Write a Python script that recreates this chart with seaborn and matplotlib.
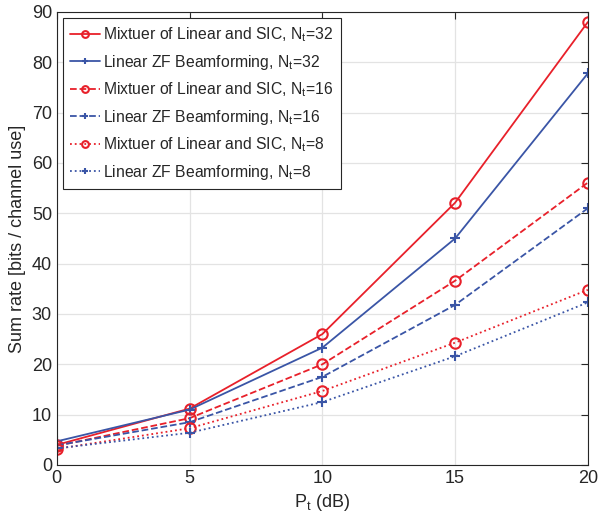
import numpy as np
import pandas as pd
import matplotlib
matplotlib.use("Agg")
import matplotlib.pyplot as plt
import seaborn as sns

# data
pt_db = [0, 5, 10, 15, 20]
mix_32 = [4.0, 11.2, 26.0, 52.1, 88.0]
zf_32 = [4.7, 11.0, 23.3, 45.0, 77.8]
mix_16 = [3.8, 9.3, 20.0, 36.6, 56.1]
zf_16 = [3.9, 8.5, 17.5, 31.8, 51.0]
mix_8 = [3.2, 7.3, 14.7, 24.3, 34.8]
zf_8 = [3.3, 6.4, 12.5, 21.6, 32.3]

labels = [
    r"Mixtuer of Linear and SIC, N$_\mathregular{t}$=32",
    r"Linear ZF Beamforming, N$_\mathregular{t}$=32",
    r"Mixtuer of Linear and SIC, N$_\mathregular{t}$=16",
    r"Linear ZF Beamforming, N$_\mathregular{t}$=16",
    r"Mixtuer of Linear and SIC, N$_\mathregular{t}$=8",
    r"Linear ZF Beamforming, N$_\mathregular{t}$=8",
]
series = [mix_32, zf_32, mix_16, zf_16, mix_8, zf_8]

red = "#e8202a"
blue = "#3a55a6"
styles = [
    (red, "-", "o"), (blue, "-", "+"),
    (red, "--", "o"), (blue, "--", "+"),
    (red, ":", "o"), (blue, ":", "+"),
]

sns.set_style("white")
plt.rcParams['font.family'] = ['Liberation Sans', 'DejaVu Sans']
plt.rcParams['mathtext.fontset'] = 'custom'
plt.rcParams['mathtext.rm'] = 'Liberation Sans'

fig = plt.figure(figsize=(5.98, 5.21), dpi=100)
ax = fig.add_axes([0.095, 0.1075, 0.888, 0.8695])

for vals, lab, (c, ls, mk) in zip(series, labels, styles):
    df = pd.DataFrame({"x": pt_db, "y": vals})
    sns.lineplot(data=df, x="x", y="y", ax=ax, color=c, linestyle=ls,
                 marker=mk, markersize=7.5, markerfacecolor="none",
                 markeredgecolor=c, markeredgewidth=1.5, linewidth=1.3,
                 label=lab)

ax.set_xlim(0, 20)
ax.set_ylim(0, 90)
ax.set_xticks([0, 5, 10, 15, 20])
ax.set_yticks(np.arange(0, 91, 10))
ax.grid(True, color="#e3e3e3", linewidth=0.9)
ax.tick_params(direction="in", labelsize=13, colors="#262626", length=5,
               top=True, right=True)
for s in ax.spines.values():
    s.set_color("#262626")
    s.set_linewidth(0.8)
ax.set_xlabel(r"P$_\mathregular{t}$ (dB)", fontsize=13, color="#262626")
ax.set_ylabel("Sum rate [bits / channel use]", fontsize=13, color="#262626")

leg = ax.legend(loc="upper left", fontsize=11.3, frameon=True, fancybox=False,
                edgecolor="#262626", framealpha=1, handlelength=1.9,
                handletextpad=0.2, borderpad=0.45, labelspacing=0.55,
                markerscale=0.65, borderaxespad=0.4)
leg.get_frame().set_linewidth(0.8)

fig.savefig("out.png", dpi=100)
